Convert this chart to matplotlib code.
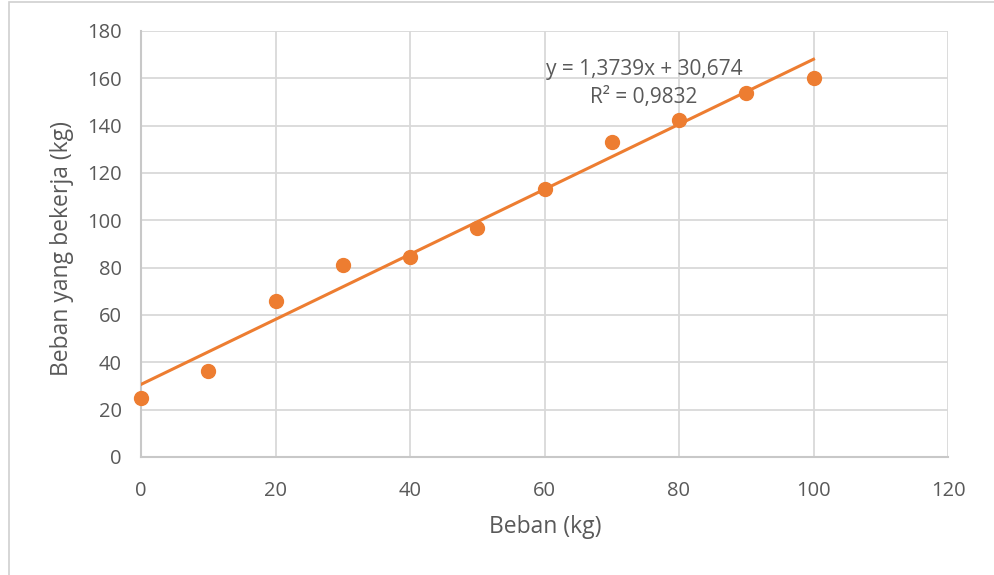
import numpy as np
import matplotlib.pyplot as plt

# Data
beban = [0, 10, 20, 30, 40, 50, 60, 70, 80, 90, 100]
beban_bekerja = [25, 36.3, 65.9, 81.1, 84.5, 96.7, 113.2, 133.1, 142.4, 153.8, 160.1]

slope = 1.3739
intercept = 30.674
r2 = 0.9832

orange = "#ED7D31"
grid_col = "#D9D9D9"
text_col = "#595959"

plt.rcParams['font.family'] = ['Open Sans', 'DejaVu Sans']

fig = plt.figure(figsize=(9.94, 5.75), dpi=100)
ax = fig.add_axes([141/994, 1 - 457/575, (948 - 141)/994, (457 - 31)/575])

# trend line from the fitted equation
xt = np.array([beban[0], beban[-1]])
ax.plot(xt, slope*xt + intercept, color=orange, lw=2.2, zorder=3)
ax.plot(beban, beban_bekerja, 'o', color=orange, ms=10, zorder=4, clip_on=False)

ax.set_xlim(0, 120)
ax.set_ylim(0, 180)
ax.set_xticks(np.arange(0, 121, 20))
ax.set_yticks(np.arange(0, 181, 20))
ax.grid(True, color=grid_col, lw=1.3)
ax.set_axisbelow(True)
ax.tick_params(length=0, labelsize=14.5, labelcolor=text_col)
ax.tick_params(axis='x', pad=17)
ax.tick_params(axis='y', pad=14)
for s in ['top', 'right']:
    ax.spines[s].set_visible(False)
for s in ['left', 'bottom']:
    ax.spines[s].set_color("#C8C8C8")
    ax.spines[s].set_linewidth(1.5)

ax.set_xlabel("Beban (kg)", fontsize=16.5, color=text_col)
ax.set_ylabel("Beban yang bekerja (kg)", fontsize=16.5, color=text_col)
ax.xaxis.set_label_coords(545/994, 1 - 527/575, transform=fig.transFigure)
ax.yaxis.set_label_coords(62/994, 1 - 248/575, transform=fig.transFigure)
ax.xaxis.label.set_va('center')
ax.yaxis.label.set_va('center')

eq = "y = {}x + {}".format(str(slope).replace('.', ','), str(intercept).replace('.', ','))
r2txt = "R² = {}".format(str(r2).replace('.', ','))
fig.text(644/994, 1 - 70/575, eq, ha='center', va='center', fontsize=15, color=text_col)
fig.text(644/994, 1 - 98/575, r2txt, ha='center', va='center', fontsize=15, color=text_col)

# chart border
fig.patches.append(plt.Rectangle((9/994, -0.01), 1.0, 1 - 2/575 + 0.01, transform=fig.transFigure,
                                 fill=False, edgecolor="#D0D0D0", lw=1.2))

fig.savefig("out.png", dpi=100)
